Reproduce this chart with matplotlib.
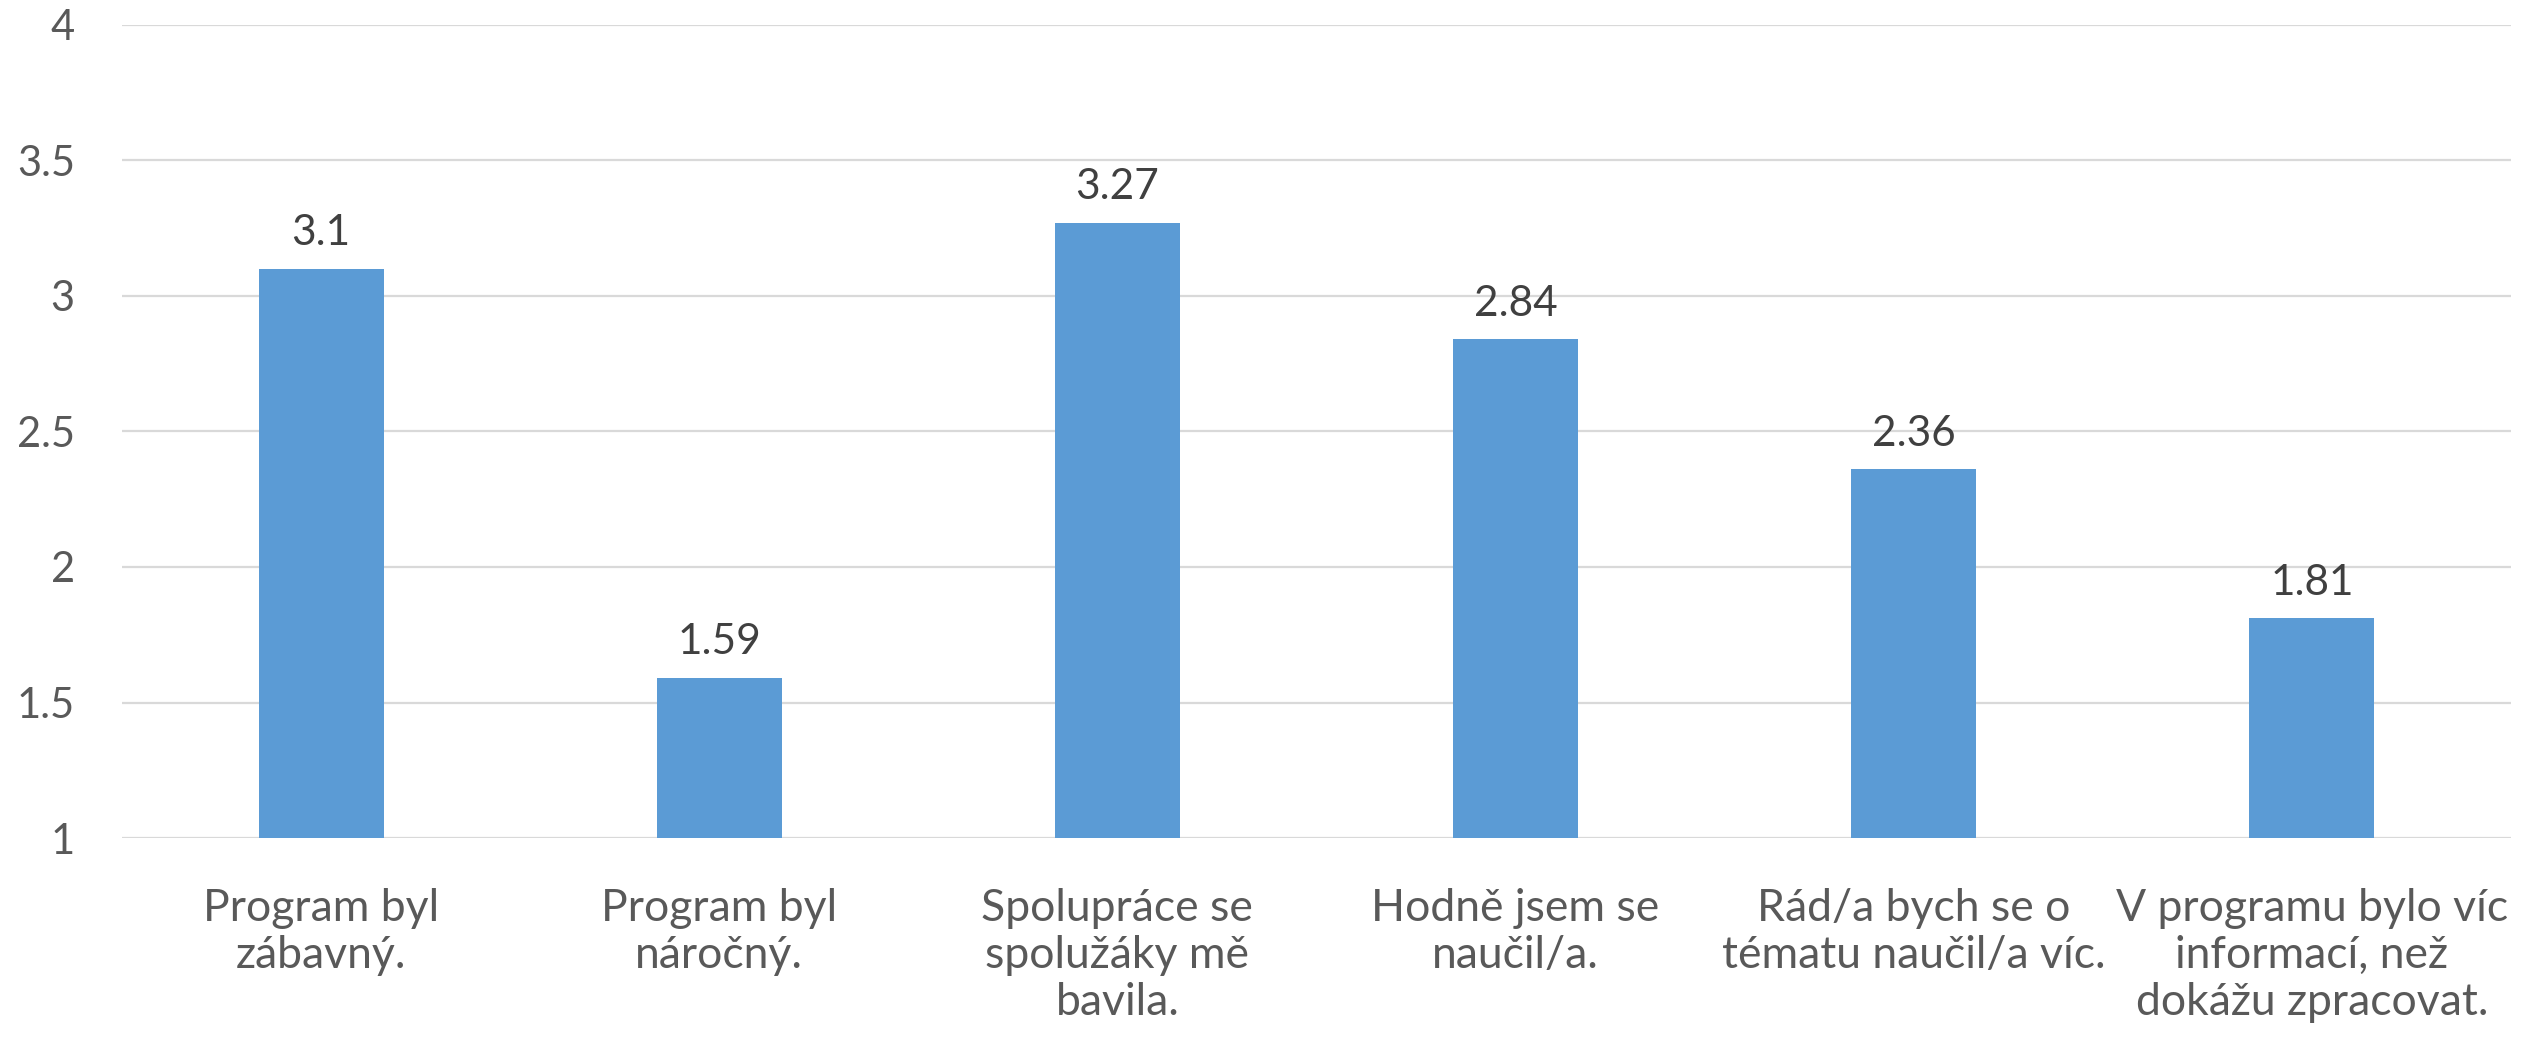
import matplotlib
matplotlib.use("Agg")
import matplotlib.pyplot as plt
import numpy as np

categories = [
    "Program byl\nzábavný.",
    "Program byl\nnáročný.",
    "Spolupráce se\nspolužáky mě\nbavila.",
    "Hodně jsem se\nnaučil/a.",
    "Rád/a bych se o\ntématu naučil/a víc.",
    "V programu bylo víc\ninformací, než\ndokážu zpracovat.",
]
values = [3.1, 1.59, 3.27, 2.84, 2.36, 1.81]
yticks = [1, 1.5, 2, 2.5, 3, 3.5, 4]
ytick_labels = ["1", "1.5", "2", "2.5", "3", "3.5", "4"]

plt.rcParams['font.family'] = ['Lato', 'DejaVu Sans']

fig = plt.figure(figsize=(25.22, 10.41), dpi=100)
ax = fig.add_axes([0.0484, 0.195, 0.9472, 0.781])

x = np.arange(len(categories))
bars = ax.bar(x, np.array(values) - 1, bottom=1, width=0.314, color="#5B9BD5", zorder=3)

for xi, v in zip(x, values):
    ax.annotate(f"{v:g}", (xi, v), xytext=(0, 17), textcoords="offset points",
                ha="center", va="baseline", fontsize=30.5, color="#404040")

ax.set_xlim(-0.5, len(categories) - 0.5)
ax.set_ylim(1, 4)
ax.set_yticks(yticks)
ax.set_yticklabels(ytick_labels)
ax.set_xticks(x)
ax.set_xticklabels(categories, linespacing=1.18)

ax.tick_params(axis="y", length=0, pad=34, labelsize=30, labelcolor="#595959")
ax.tick_params(axis="x", length=0, pad=36, labelsize=32, labelcolor="#595959")

ax.yaxis.grid(True, color="#D9D9D9", linewidth=1.6, zorder=0)
ax.xaxis.grid(False)
for s in ax.spines.values():
    s.set_visible(False)

fig.savefig("out.png", dpi=100)
